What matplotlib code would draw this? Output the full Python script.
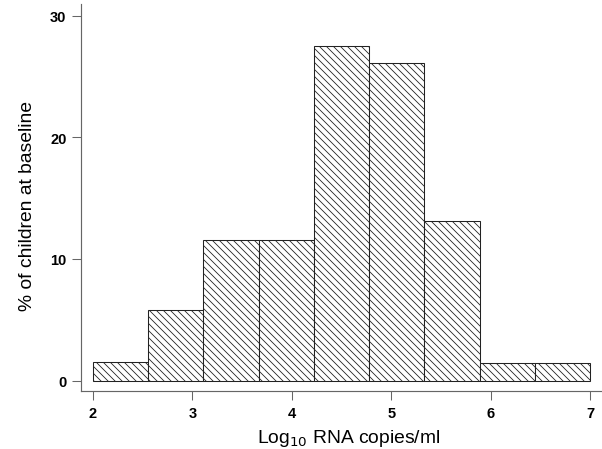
import numpy as np
import matplotlib
matplotlib.use("Agg")
import matplotlib.pyplot as plt

# histogram of baseline viral load
bin_edges = [2.0, 2.556, 3.111, 3.667, 4.222, 4.778, 5.333, 5.889, 6.444, 7.0]
percent = [1.5, 5.8, 11.6, 11.6, 27.5, 26.1, 13.1, 1.45, 1.45]
x_ticks = [2, 3, 4, 5, 6, 7]
y_ticks = [0, 10, 20, 30]

plt.rcParams['font.family'] = ['Liberation Sans', 'DejaVu Sans']
plt.rcParams['hatch.linewidth'] = 0.7

dpi = 84
fig = plt.figure(figsize=(602 / dpi, 450 / dpi), dpi=dpi)
ax = fig.add_axes([81 / 602, 1 - 392 / 450, 1 - 81 / 602, 387 / 450])

edges = np.array(bin_edges)
ax.bar(edges[:-1], percent, width=np.diff(edges), align='edge',
       color='white', edgecolor='#222222', linewidth=0.9, hatch='\\\\\\\\')

ax.set_xlim(1.879, 7.121)
ax.set_ylim(-0.846, 30.95)
ax.set_xticks(x_ticks)
ax.set_yticks(y_ticks)
for lab in ax.get_xticklabels() + ax.get_yticklabels():
    lab.set_fontweight('bold')

for side in ['top', 'right']:
    ax.spines[side].set_visible(False)
for side in ['left', 'bottom']:
    ax.spines[side].set_color('#666666')
    ax.spines[side].set_linewidth(1.0)

ax.tick_params(direction='out', length=7.5, width=0.9, color='#666666',
               labelsize=12.5, pad=5)
ax.set_ylabel('% of children at baseline', fontsize=16.5)
ax.set_xlabel('Log$_{10}$ RNA copies/ml', fontsize=16.5)
ax.yaxis.set_label_coords(-0.086, 0.48)
ax.xaxis.set_label_coords(0.514, -0.093)

fig.savefig('out.png', dpi=dpi)
